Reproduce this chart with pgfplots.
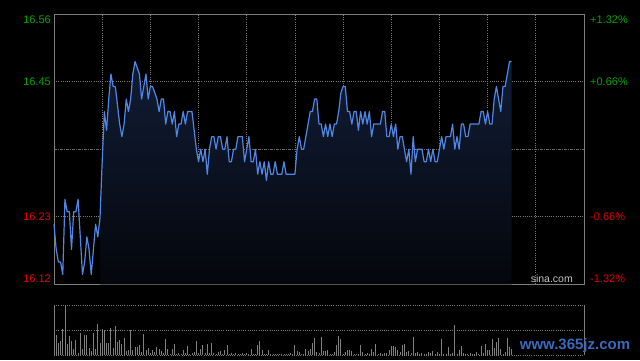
\documentclass[border=0pt]{standalone}
\usepackage{pgfplots}
\pgfplotsset{compat=1.18}
\usepackage{pgfplotstable}
\usepackage{fontspec}
\setmainfont{Liberation Sans}
\definecolor{gridc}{RGB}{120,120,120}
\definecolor{framec}{RGB}{125,125,125}
\definecolor{linec}{RGB}{80,135,230}
\definecolor{filltop}{RGB}{17,29,54}
\definecolor{fillbot}{RGB}{4,6,11}
\definecolor{upc}{RGB}{0,165,0}
\definecolor{downc}{RGB}{220,5,5}
\definecolor{volc}{RGB}{128,128,128}
\definecolor{sinac}{RGB}{195,195,195}
\definecolor{wmc}{RGB}{60,105,190}
\tikzset{lab/.style={inner sep=0pt, font=\fontsize{11}{13}\selectfont}}

\pgfplotstableread{
i p
0 16.22
1 16.18
2 16.16
3 16.16
4 16.14
5 16.26
6 16.24
7 16.24
8 16.18
9 16.24
10 16.24
11 16.26
12 16.20
13 16.14
14 16.16
15 16.20
16 16.18
17 16.14
18 16.18
19 16.22
20 16.20
21 16.23
22 16.32
23 16.40
24 16.37
25 16.42
26 16.46
27 16.44
28 16.44
29 16.41
30 16.38
31 16.36
32 16.38
33 16.42
34 16.40
35 16.42
36 16.46
37 16.48
38 16.47
39 16.46
40 16.42
41 16.44
42 16.46
43 16.42
44 16.44
45 16.44
46 16.43
47 16.42
48 16.40
49 16.42
50 16.42
51 16.38
52 16.40
53 16.40
54 16.38
55 16.40
56 16.36
57 16.38
58 16.38
59 16.40
60 16.38
61 16.40
62 16.40
63 16.40
64 16.37
65 16.34
66 16.32
67 16.34
68 16.32
69 16.34
70 16.30
71 16.34
72 16.36
73 16.36
74 16.34
75 16.36
76 16.36
77 16.34
78 16.34
79 16.36
80 16.32
81 16.32
82 16.34
83 16.34
84 16.36
85 16.36
86 16.36
87 16.32
88 16.34
89 16.36
90 16.32
91 16.32
92 16.34
93 16.30
94 16.32
95 16.30
96 16.32
97 16.29
98 16.32
99 16.30
100 16.30
101 16.32
102 16.30
103 16.30
104 16.30
105 16.32
106 16.30
107 16.30
108 16.30
109 16.30
110 16.30
111 16.34
112 16.36
113 16.34
114 16.34
115 16.36
116 16.38
117 16.40
118 16.40
119 16.42
120 16.42
121 16.38
122 16.38
123 16.36
124 16.38
125 16.36
126 16.38
127 16.36
128 16.38
129 16.38
130 16.40
131 16.43
132 16.44
133 16.44
134 16.40
135 16.40
136 16.38
137 16.40
138 16.40
139 16.37
140 16.40
141 16.38
142 16.40
143 16.38
144 16.40
145 16.36
146 16.38
147 16.38
148 16.38
149 16.38
150 16.40
151 16.40
152 16.36
153 16.36
154 16.38
155 16.36
156 16.38
157 16.34
158 16.36
159 16.36
160 16.34
161 16.32
162 16.34
163 16.30
164 16.36
165 16.32
166 16.34
167 16.34
168 16.34
169 16.32
170 16.32
171 16.34
172 16.32
173 16.34
174 16.32
175 16.32
176 16.34
177 16.36
178 16.34
179 16.36
180 16.36
181 16.36
182 16.38
183 16.34
184 16.36
185 16.34
186 16.38
187 16.38
188 16.36
189 16.36
190 16.38
191 16.38
192 16.38
193 16.38
194 16.38
195 16.40
196 16.40
197 16.38
198 16.40
199 16.38
200 16.38
201 16.42
202 16.44
203 16.42
204 16.40
205 16.44
206 16.44
207 16.46
208 16.48
209 16.48
}\price

\pgfplotstableread{
i v
0 87
1 41
2 25
3 28
4 52
5 100
6 23
7 39
8 28
9 12
10 30
11 5
12 45
13 13
14 41
15 41
16 15
17 8
18 45
19 12
20 63
21 25
22 52
23 50
24 25
25 25
26 55
27 15
28 59
29 27
30 30
31 23
32 35
33 8
34 10
35 50
36 10
37 17
38 17
39 21
40 7
41 43
42 10
43 15
44 5
45 10
46 7
47 17
48 12
49 8
50 5
51 32
52 12
53 3
54 13
55 23
56 3
57 5
58 3
59 10
60 5
61 18
62 3
63 5
64 7
65 29
66 5
67 12
68 21
69 5
70 23
71 5
72 25
73 5
74 3
75 7
76 8
77 3
78 10
79 20
80 3
81 5
82 3
83 5
84 3
85 3
86 5
87 3
88 5
89 3
90 12
91 3
92 3
93 20
94 29
95 10
96 3
97 3
98 10
99 3
100 3
101 3
102 3
103 3
104 3
105 3
106 3
107 3
108 5
109 3
110 20
111 8
112 7
113 3
114 3
115 12
116 9
117 12
118 25
119 35
120 7
121 5
122 37
123 8
124 8
125 10
126 3
127 3
128 7
129 20
130 39
131 32
132 3
133 7
134 10
135 10
136 8
137 3
138 3
139 3
140 20
141 7
142 3
143 5
144 3
145 13
146 7
147 23
148 3
149 5
150 3
151 5
152 5
153 10
154 19
155 19
156 17
157 10
158 7
159 21
160 23
161 7
162 8
163 5
164 37
165 5
166 7
167 3
168 5
169 3
170 3
171 7
172 5
173 8
174 3
175 7
176 3
177 32
178 3
179 3
180 17
181 3
182 5
183 61
184 3
185 10
186 19
187 5
188 3
189 3
190 5
191 3
192 3
193 7
194 3
195 19
196 5
197 23
198 10
199 10
200 32
201 15
202 27
203 35
204 13
205 3
206 7
207 35
208 17
209 13
}\vol

\begin{document}
\begin{tikzpicture}
\fill[black] (0pt,0pt) rectangle (640pt,360pt);
\begin{axis}[
  name=price,
  at={(54pt,75.7pt)}, anchor=south west,
  scale only axis, width=530pt, height=270.3pt,
  xmin=0, xmax=242, ymin=16.1243, ymax=16.5557,
  clip=false,
  axis line style={draw=framec, line width=0.9pt},
  xtick={22,44,...,220}, xticklabels={},
  ytick={16.2322,16.4478}, yticklabels={},
  extra y ticks={16.34}, extra y tick labels={},
  extra y tick style={grid=major, major grid style={draw=gridc!110, line width=0.8pt, dash pattern=on 3pt off 1pt on 1pt off 1pt}},
  major tick length=0pt,
  grid=major,
  major grid style={draw=gridc, line width=0.8pt, dash pattern=on 1pt off 1.2pt},
]
\addplot[draw=none, top color=filltop, bottom color=fillbot, restrict x to domain=21:209]
  table[x=i,y=p]{\price} |- (axis cs:21,16.1243) -- cycle;
\addplot[draw=linec, line width=1.2pt, line join=round] table[x=i,y=p]{\price};
\node[lab, text=upc, anchor=east] at ([xshift=-3pt,yshift=-6pt]axis cs:0,16.5557) {16.56};
\node[lab, text=upc, anchor=east] at ([xshift=-3pt]axis cs:0,16.4478) {16.45};
\node[lab, text=downc, anchor=east] at ([xshift=-3pt]axis cs:0,16.2322) {16.23};
\node[lab, text=downc, anchor=east] at ([xshift=-3pt,yshift=6pt]axis cs:0,16.1243) {16.12};
\node[lab, text=upc, anchor=west] at ([xshift=6pt,yshift=-6pt]axis cs:242,16.5557) {+1.32\%};
\node[lab, text=upc, anchor=west] at ([xshift=6pt]axis cs:242,16.4478) {+0.66\%};
\node[lab, text=downc, anchor=west] at ([xshift=6pt]axis cs:242,16.2322) {-0.66\%};
\node[lab, text=downc, anchor=west] at ([xshift=6pt,yshift=6pt]axis cs:242,16.1243) {-1.32\%};
\node[inner sep=0pt, text=sinac, anchor=east, font=\fontsize{10.5}{12}\selectfont] at ([xshift=-11pt,yshift=5.5pt]axis cs:242,16.1243) {sina.com};
\end{axis}
\begin{axis}[
  name=volume,
  at={(54pt,5pt)}, anchor=south west,
  scale only axis, width=530pt, height=50pt,
  xmin=0, xmax=242, ymin=0, ymax=100,
  clip=false,
  axis line style={draw=none},
  xtick=\empty,
  ytick={0,50,100}, yticklabels={},
  major tick length=0pt,
  ymajorgrids=true,
  major grid style={draw=gridc, line width=0.8pt, dash pattern=on 1pt off 1.2pt},
]
\addplot[ycomb, draw=volc, line width=0.9pt] table[x=i,y=v]{\vol};
\draw[framec, line width=0.9pt] (rel axis cs:0,0) -- (rel axis cs:0,1);
\draw[framec, line width=0.9pt] (rel axis cs:1,0) -- (rel axis cs:1,1);
\end{axis}
\node[text=wmc, inner sep=0pt, font=\bfseries\fontsize{15}{17}\selectfont] at (575pt,14.5pt) {www.365jz.com};
\pgfresetboundingbox
\path[use as bounding box] (0pt,0pt) rectangle (640pt,360pt);
\end{tikzpicture}
\end{document}
